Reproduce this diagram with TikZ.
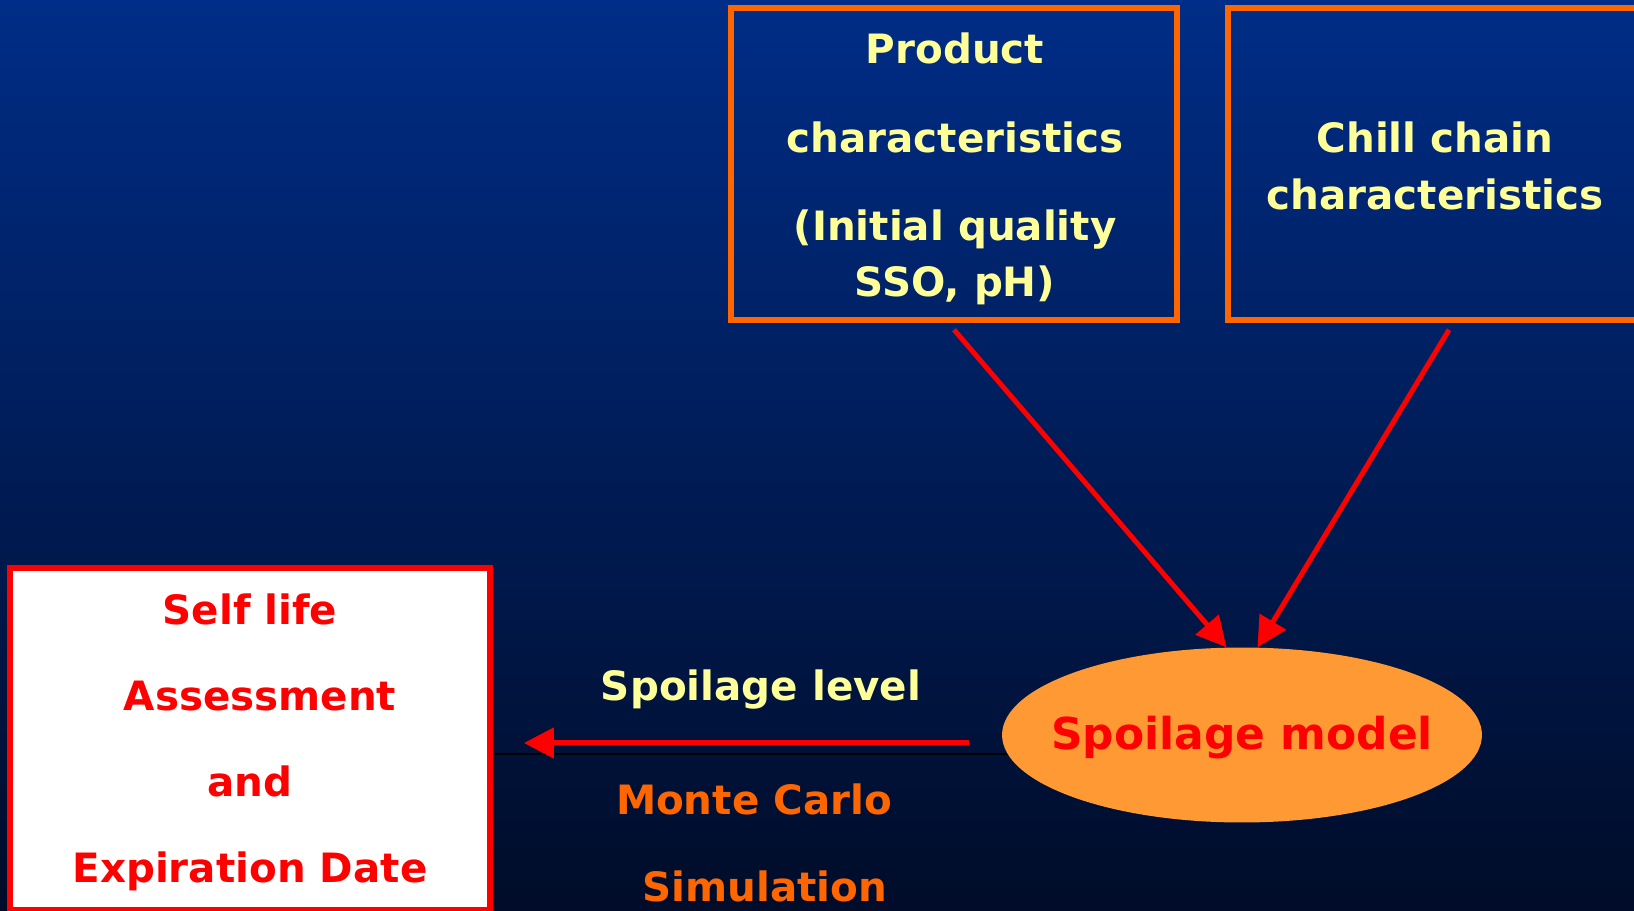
\documentclass[tikz,border=0pt]{standalone}
\usepackage{fontspec}
\setmainfont{DejaVu Sans}
\usetikzlibrary{arrows.meta,shapes.geometric}

\definecolor{slidetop}{RGB}{0,45,135}
\definecolor{slidebot}{RGB}{0,12,40}
\definecolor{paleyellow}{RGB}{255,255,153}
\definecolor{boxorange}{RGB}{255,102,0}
\definecolor{modelorange}{RGB}{255,153,51}

\tikzset{
  inbox/.style={draw=boxorange, line width=0.11cm, inner sep=0pt,
    minimum height=6.24cm},
  intext/.style={text=paleyellow, align=center},
  feed/.style={-{Triangle[length=0.6cm,width=0.6cm]}, red, line width=0.1cm},
  caption/.style={font=\fontsize{23}{31}\bfseries\selectfont}
}

\begin{document}
\begin{tikzpicture}[x=0.02cm, y=-0.02cm]
    \useasboundingbox (0,0) rectangle (1634,911);
    \clip (0,0) rectangle (1634,911);
    \shade[top color=slidetop, bottom color=slidebot] (0,0) rectangle (1634,911);

    % inputs
    \node[inbox, minimum width=8.92cm] (prod) at (954,164) {};
    \node[intext, font=\fontsize{23}{32}\bfseries\selectfont] (prodtext) at (955,169)
      {Product\\[19pt]characteristics\\[18pt](Initial quality\\SSO, pH)};
    \node[inbox, minimum width=8.84cm] (chill) at (1449,164) {};
    \node[intext, font=\fontsize{23}{32}\bfseries\selectfont] (chilltext) at (1435,166)
      {Chill chain\\characteristics};

    %%%%
    \coordinate (mid) at (1242,735);
    \draw[black, line width=0.04cm] (490,754) -- (490,754 -| mid);
    \node[ellipse, fill=modelorange, inner sep=0pt, minimum width=9.6cm,
      minimum height=3.5cm] (model) at (mid) {};
    \node[text=red, font=\fontsize{25}{30}\bfseries\selectfont]
      (modeltext) at ([yshift=-0.06cm]model.center) {Spoilage model};

    \node[draw=red, fill=white, line width=0.12cm, inner sep=0pt,
      minimum width=9.6cm, minimum height=6.84cm] (life) at (250,739) {};
    \node[text=red, align=center, font=\fontsize{23}{49}\bfseries\selectfont]
      (lifetext) at (250,742)
      {Self life\\\hspace*{0.4cm}Assessment\\and\\Expiration Date};

    \draw[feed] (prod.south) ++(0,7) -- (model.100);
    \draw[feed] (chill.south) ++(0,7) -- (model.80);
    \draw[feed, shorten <=0.66cm, shorten >=0.62cm]
      ([yshift=-0.16cm]model.west) -- ([yshift=-0.16cm]model.west -| life.east);

    \node[caption, text=paleyellow] (level) at (761,690) {Spoilage level};
    \node[caption, text=boxorange] (carlo) at (754,799) {Monte Carlo};
    \node[caption, text=boxorange] (sim) at (765,886) {Simulation};
  \end{tikzpicture}
\end{document}
